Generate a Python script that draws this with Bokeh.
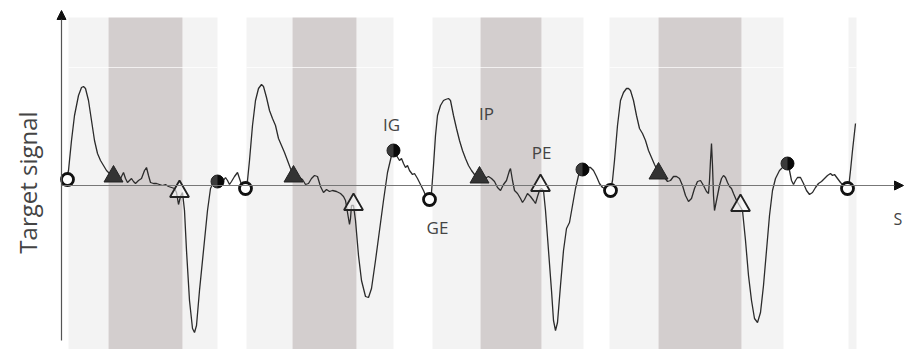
import math
from bokeh.plotting import figure
from bokeh.models import Range1d, Arrow, NormalHead
from bokeh.core.properties import value
from bokeh.embed import file_html
from bokeh.resources import INLINE

# ---- data (time t, signal v) ----
signal_t = [5, 7, 10, 13, 17, 20, 22, 24, 27, 30, 33, 36, 39, 42, 45, 49, 52, 55, 58, 60, 62, 64, 66, 68, 70, 72, 74, 77, 80, 83, 85, 87, 89, 92, 95, 98, 101, 104, 107, 110, 113, 115, 117, 119, 121, 123, 125, 128, 131, 133, 135, 138, 142, 146, 149, 152, 156, 159, 162, 164, 166, 168, 170, 173, 176, 178, 180, 183,
            184, 186, 188, 191, 194, 197, 200, 202, 205, 208, 211, 214, 217, 220, 223, 226, 229, 232, 235, 238, 241, 244, 247, 250, 253, 256, 259, 262, 265, 268, 271, 275, 279, 282, 284, 286, 288, 289, 290, 292, 294, 297, 300, 304, 307, 310, 314, 318, 322, 326, 330, 332, 335, 338, 340, 342, 344, 346, 348, 351, 353, 356, 359, 362, 365, 368, 370, 372, 374, 376, 379, 382, 384, 387,
            389, 392, 395, 398, 401, 404, 407, 410, 413, 416, 419, 423, 427, 430, 433, 436, 439, 442, 445, 448, 449, 451, 453, 456, 459, 461, 463, 466, 469, 472, 474, 476, 478, 480, 482, 484, 487, 490, 492, 494, 496, 499, 502, 505, 508, 511, 514, 517, 521, 525, 529, 532, 535, 538, 541, 544, 547, 549,
            551, 553, 556, 559, 562, 565, 567, 569, 572, 575, 578, 581, 584, 587, 590, 593, 596, 599, 603, 606, 609, 612, 615, 618, 621, 624, 627, 630, 633, 636, 639, 642, 645, 647, 648, 649, 650, 651, 652, 653, 654, 656, 658, 660, 662, 664, 666, 668, 670, 672, 675, 678, 681, 684, 687, 690, 693, 696, 699, 702, 705, 708, 711, 714, 718, 722, 726, 728, 730, 732, 734, 736, 739, 742, 745, 748, 751, 754, 757, 760, 763, 766, 769, 771, 773, 776, 779, 782, 785, 787, 789, 791, 794]
signal_v = [6, 15, 45, 70, 90, 98, 99, 97, 85, 65, 45, 32, 25, 20, 15, 11, 9, 5, 4, 9, 13, 7, 3, 5, 7, 4, 2, 5, 7, 15, 18, 10, 3, 2, 2, 1, 0, 1, -1, -2, -3, -7, -19, -11, -7, -25, -65, -115, -143, -147, -140, -105, -65, -25, -3, 3, 4, 3, 5, 8, 5, 1, 4, 9, 13, 7, 1, -1,
            -2, 5, 25, 60, 85, 97, 101, 99, 88, 75, 67, 60, 47, 40, 33, 25, 17, 10, 7, 8, 6, 1, 2, 7, 10, 9, -1, -7, -4, -6, -5, -6, -8, -11, -15, -27, -39, -33, -20, -20, -35, -70, -95, -111, -112, -103, -75, -45, -15, 13, 30, 35, 30, 25, 27, 22, 18, 20, 15, 11, 12, 7, 1, -5, -12, -14, -7, 20, 50, 70, 80, 85, 86, 87,
            85, 70, 57, 45, 35, 27, 20, 15, 11, 9, 8, 7, 9, 7, 4, -2, -5, 1, 5, 15, 17, 5, -5, -8, -13, -17, -14, -8, -11, -15, -18, -11, -5, -3, -5, -25, -65, -105, -135, -145, -137, -100, -65, -43, -37, -20, -3, 10, 16, 18, 18, 15, 9, 2, -2, -3, -4, -5,
            5, 25, 60, 85, 93, 97, 97, 95, 85, 70, 57, 52, 45, 35, 28, 21, 15, 11, 8, 4, 5, 9, 9, 7, 0, -10, -16, -13, -3, 4, 5, 0, -6, -8, 5, 25, 42, 20, -10, -25, -20, -10, 0, 7, 10, 8, 3, -1, -3, -8, -15, -20, -25, -55, -90, -115, -133, -137, -127, -100, -65, -30, -5, 7, 15, 19, 22, 15, 5, 1, 5, 8, 8, 2, -5, -9, -7, -2, 2, 4, 7, 10, 12, 10, 11, 7, 3, 0, -2, -3, 15, 35, 62]

# event markers
ge_t = [6, 184, 368, 549, 786]          # open circles (GE)
ge_v = [6, -3, -14, -5, -3]
ip_t = [52, 232, 418, 597]              # filled triangles (IP)
ip_v = [9, 9, 8, 12]
pe_t = [118, 292, 479, 679]             # open triangles (PE)
pe_v = [-6, -19, 0, -20]
ig_t = [156, 332, 521, 726]             # filled circles (IG)
ig_v = [4, 35, 16, 22]

# shaded phases
light_left = [7, 185, 371, 548, 787]
light_right = [47, 231, 419, 597, 795]
dark_left = [47, 231, 419, 597]
dark_right = [121, 295, 480, 680]
light2_left = [121, 295, 480, 680]
light2_right = [156, 332, 522, 722]

label_text = ["IG", "GE", "IP", "PE"]
label_t = [330, 376, 425, 480]
label_v = [61, -42, 72, 33]

band_top, band_bottom, band_seam = 168, -170, 118

p = figure(width=905, height=349, output_backend="svg", toolbar_location=None,
           x_range=Range1d(-61, 844), y_range=Range1d(-164, 185),
           x_axis_location=None, y_axis_location=None, min_border=0)
p.grid.visible = False
p.outline_line_color = None
p.background_fill_color = "white"

LIGHT = "#f3f3f3"
DARK = "#d3cece"
n = len(light_left)
p.quad(left=light_left, right=light_right, bottom=[band_bottom] * n, top=[band_top] * n,
       fill_color=LIGHT, line_color=None)
p.quad(left=light2_left, right=light2_right, bottom=[band_bottom] * 4, top=[band_top] * 4,
       fill_color=LIGHT, line_color=None)
p.quad(left=dark_left, right=dark_right, bottom=[band_bottom] * 4, top=[band_top] * 4,
       fill_color=DARK, line_color=None)
# faint seam across the bands
seam_right = light2_right + [light_right[-1]]
p.segment(x0=light_left, y0=[band_seam] * n, x1=seam_right, y1=[band_seam] * n,
          line_color="white", line_alpha=0.7, line_width=1)

# axes with arrows
p.add_layout(Arrow(x_start=0, y_start=-155, x_end=0, y_end=175, line_color="#555555", line_width=1.2,
                   end=NormalHead(size=9, fill_color="#111111", line_color="#111111")))
p.add_layout(Arrow(x_start=0, y_start=0, x_end=842, y_end=0, line_color="#777777", line_width=1.2,
                   end=NormalHead(size=9, fill_color="#111111", line_color="#111111")))

p.line(signal_t, signal_v, line_color="#2b2b2b", line_width=1.3)

p.scatter(ge_t, ge_v, marker="circle", size=12, fill_color="white", line_color="#111111", line_width=2.8)
p.scatter(ip_t, ip_v, marker="triangle", size=19, fill_color="#333333", line_color="#222222")
p.scatter(pe_t, pe_v, marker="triangle", size=19, fill_color="white", fill_alpha=0.6,
          line_color="#222222", line_width=1.8)
p.scatter(ig_t, ig_v, marker="circle", size=13, fill_color="#3a3a3a", line_color="#222222")
p.wedge(ig_t, ig_v, radius=6.5, radius_units="screen", start_angle=-math.pi / 2, end_angle=math.pi / 2,
        fill_color="#0a0a0a", line_color=None)

p.text(label_t, label_v, text=label_text, text_font=value("Open Sans"), text_font_size="17px",
       text_color="#444444", text_align="center", text_baseline="middle")
p.text([-34], [3], text=["Target signal"], angle=math.pi / 2, text_font=value("Open Sans"),
       text_font_size="24px", text_color="#444444", text_align="center", text_baseline="middle")
p.text([832], [-33], text=["S"], text_font=value("Open Sans"), text_font_size="16px",
       text_color="#444444", text_align="left", text_baseline="middle")

open("out.html", "w").write(file_html(p, INLINE))
